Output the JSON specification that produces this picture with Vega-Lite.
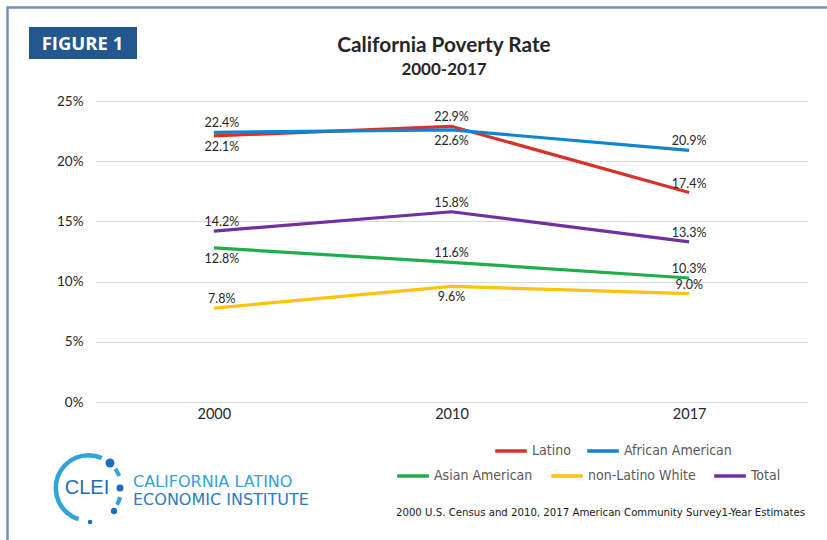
{
  "$schema": "https://vega.github.io/schema/vega-lite/v6.json",
  "width": 713,
  "height": 301,
  "autosize": {"type": "none"},
  "padding": {"left": 95, "top": 101, "right": 19, "bottom": 138},
  "background": "white",
  "config": {"view": {"stroke": null}, "font": "Lato"},
  "data": {
    "values": [
      {"series": "Latino", "year": "2000", "value": 0.221},
      {"series": "Latino", "year": "2010", "value": 0.229},
      {"series": "Latino", "year": "2017", "value": 0.174},
      {"series": "African American", "year": "2000", "value": 0.224},
      {"series": "African American", "year": "2010", "value": 0.226},
      {"series": "African American", "year": "2017", "value": 0.209},
      {"series": "Asian American", "year": "2000", "value": 0.128},
      {"series": "Asian American", "year": "2010", "value": 0.116},
      {"series": "Asian American", "year": "2017", "value": 0.103},
      {"series": "non-Latino White", "year": "2000", "value": 0.078},
      {"series": "non-Latino White", "year": "2010", "value": 0.096},
      {"series": "non-Latino White", "year": "2017", "value": 0.090},
      {"series": "Total", "year": "2000", "value": 0.142},
      {"series": "Total", "year": "2010", "value": 0.158},
      {"series": "Total", "year": "2017", "value": 0.133}
    ]
  },
  "layer": [
    {
      "data": {"values": [{}]},
      "mark": {"type": "rule", "stroke": "#7393b3", "strokeWidth": 2.5},
      "encoding": {"x": {"value": -87.5}, "x2": {"value": 740}, "y": {"value": -93.5}, "y2": {"value": -93.5}}
    },
    {
      "data": {"values": [{}]},
      "mark": {"type": "rule", "stroke": "#7393b3", "strokeWidth": 2.5},
      "encoding": {"x": {"value": -87.5}, "x2": {"value": -87.5}, "y": {"value": -94.7}, "y2": {"value": 445}}
    },
    {
      "data": {"values": [{}]},
      "mark": {"type": "rect", "fill": "#23588f"},
      "encoding": {"x": {"value": -66}, "x2": {"value": 42}, "y": {"value": -74}, "y2": {"value": -42}}
    },
    {
      "data": {"values": [{"t": "FIGURE 1"}]},
      "mark": {"type": "text", "font": "Open Sans", "fontWeight": "bold", "fontSize": 18.5, "color": "white", "align": "center", "baseline": "middle"},
      "encoding": {"text": {"field": "t"}, "x": {"value": -12.5}, "y": {"value": -57}}
    },
    {
      "data": {"values": [{"t": "California Poverty Rate"}]},
      "mark": {"type": "text", "font": "Lato", "fontWeight": "bold", "fontSize": 20.8, "color": "#262626", "align": "center", "baseline": "alphabetic"},
      "encoding": {"text": {"field": "t"}, "x": {"value": 349}, "y": {"value": -49.5}}
    },
    {
      "data": {"values": [{"t": "2000-2017"}]},
      "mark": {"type": "text", "font": "Lato", "fontWeight": "bold", "fontSize": 17, "color": "#262626", "align": "center", "baseline": "alphabetic"},
      "encoding": {"text": {"field": "t"}, "x": {"value": 349}, "y": {"value": -26}}
    },
    {
      "mark": {"type": "line", "strokeWidth": 3.2},
      "transform": [{"filter": {"field": "series", "oneOf": ["Asian American", "non-Latino White", "Total"]}}],
      "encoding": {
        "x": {"field": "year", "type": "ordinal", "sort": ["2000", "2010", "2017"],
          "axis": {"title": null, "domain": false, "ticks": false, "labelAngle": 0, "labelFontSize": 14.5, "labelColor": "#262626", "labelPadding": 5, "labelDx": 6, "labelFont": "Lato"}},
        "y": {"field": "value", "type": "quantitative", "scale": {"domain": [0, 0.25], "nice": false},
          "axis": {"title": null, "domain": false, "ticks": false, "values": [0, 0.05, 0.1, 0.15, 0.2, 0.25], "format": ".0%", "labelFontSize": 13.5, "labelColor": "#262626", "labelPadding": 12, "gridColor": "#d9d9d9", "gridWidth": 1.2, "labelFont": "Lato"}},
        "color": {"field": "series", "type": "nominal",
          "scale": {"domain": ["Asian American", "non-Latino White", "Total"], "range": ["#1fae4b", "#ffc20e", "#7030a0"]},
          "legend": {"orient": "none", "legendX": 300, "legendY": 357, "direction": "horizontal", "title": null, "symbolType": "stroke", "symbolStrokeWidth": 3.5, "symbolSize": 1000, "labelFont": "Liberation Sans Narrow, DejaVu Sans Condensed, Roboto Condensed, Roboto", "labelFontSize": 14, "labelColor": "#595959", "columnPadding": 11, "labelOffset": 3, "padding": 0}}
      }
    },
    {
      "mark": {"type": "line", "strokeWidth": 3.2},
      "transform": [{"filter": {"field": "series", "oneOf": ["African American", "Latino"]}}],
      "encoding": {
        "x": {"field": "year", "type": "ordinal", "sort": ["2000", "2010", "2017"]},
        "y": {"field": "value", "type": "quantitative"},
        "color": {"field": "series", "type": "nominal", "sort": ["Latino", "African American"],
          "scale": {"domain": ["Latino", "African American"], "range": ["#d9302b", "#0e86cf"]},
          "legend": {"orient": "none", "legendX": 398, "legendY": 332, "direction": "horizontal", "title": null, "symbolType": "stroke", "symbolStrokeWidth": 3.5, "symbolSize": 1000, "labelFont": "Liberation Sans Narrow, DejaVu Sans Condensed, Roboto Condensed, Roboto", "labelFontSize": 14, "labelColor": "#595959", "columnPadding": 9, "labelOffset": 3, "padding": 0}}
      }
    },
    {
      "transform": [{"filter": "datum.year === '2000' && !((datum.series === 'Latino') || (datum.series === 'Asian American'))"}],
      "mark": {"type": "text", "fontSize": 12.5, "color": "#262626", "dx": 8, "dy": -9, "baseline": "middle", "font": "Lato"},
      "encoding": {"x": {"field": "year", "type": "ordinal", "sort": ["2000", "2010", "2017"]}, "y": {"field": "value", "type": "quantitative"}, "text": {"field": "value", "format": ".1%"}}
    },
    {
      "transform": [{"filter": "datum.year === '2000' && ((datum.series === 'Latino') || (datum.series === 'Asian American'))"}],
      "mark": {"type": "text", "fontSize": 12.5, "color": "#262626", "dx": 8, "dy": 11, "baseline": "middle", "font": "Lato"},
      "encoding": {"x": {"field": "year", "type": "ordinal", "sort": ["2000", "2010", "2017"]}, "y": {"field": "value", "type": "quantitative"}, "text": {"field": "value", "format": ".1%"}}
    },
    {
      "transform": [{"filter": "datum.year !== '2000' && !(datum.year === '2010' && (datum.series === 'African American' || datum.series === 'non-Latino White'))"}],
      "mark": {"type": "text", "fontSize": 12.5, "color": "#262626", "dy": -9, "baseline": "middle", "font": "Lato"},
      "encoding": {"x": {"field": "year", "type": "ordinal", "sort": ["2000", "2010", "2017"]}, "y": {"field": "value", "type": "quantitative"}, "text": {"field": "value", "format": ".1%"}}
    },
    {
      "transform": [{"filter": "datum.year === '2010' && (datum.series === 'African American' || datum.series === 'non-Latino White')"}],
      "mark": {"type": "text", "fontSize": 12.5, "color": "#262626", "dy": 11, "baseline": "middle", "font": "Lato"},
      "encoding": {"x": {"field": "year", "type": "ordinal", "sort": ["2000", "2010", "2017"]}, "y": {"field": "value", "type": "quantitative"}, "text": {"field": "value", "format": ".1%"}}
    },
    {
      "data": {"values": [{}]},
      "mark": {"type": "arc", "innerRadius": 30.5, "outerRadius": 35, "theta": 3.45, "theta2": 6.7, "fill": "#2ea3dc"},
      "encoding": {"x": {"value": -6.5}, "y": {"value": 387}}
    },
    {
      "data": {"values": [{}]},
      "mark": {"type": "arc", "innerRadius": 31, "outerRadius": 35, "theta": 0.95, "theta2": 1.2, "fill": "#2ea3dc"},
      "encoding": {"x": {"value": -6.5}, "y": {"value": 387}}
    },
    {
      "data": {"values": [{}]},
      "mark": {"type": "arc", "innerRadius": 31, "outerRadius": 35, "theta": 1.85, "theta2": 2.1, "fill": "#2ea3dc"},
      "encoding": {"x": {"value": -6.5}, "y": {"value": 387}}
    },
    {
      "data": {"values": [{}]},
      "mark": {"type": "point", "shape": "circle", "filled": true, "color": "#1a6ec0", "opacity": 1, "size": 80},
      "encoding": {"x": {"value": 15}, "y": {"value": 362}}
    },
    {
      "data": {"values": [{}]},
      "mark": {"type": "point", "shape": "circle", "filled": true, "color": "#1a6ec0", "opacity": 1, "size": 50},
      "encoding": {"x": {"value": 25}, "y": {"value": 387}}
    },
    {
      "data": {"values": [{}]},
      "mark": {"type": "point", "shape": "circle", "filled": true, "color": "#1a6ec0", "opacity": 1, "size": 40},
      "encoding": {"x": {"value": 19}, "y": {"value": 410}}
    },
    {
      "data": {"values": [{}]},
      "mark": {"type": "point", "shape": "circle", "filled": true, "color": "#1a6ec0", "opacity": 1, "size": 20},
      "encoding": {"x": {"value": -5}, "y": {"value": 421}}
    },
    {
      "data": {"values": [{"t": "CLEI"}]},
      "mark": {"type": "text", "font": "Liberation Sans", "fontSize": 20, "color": "#1e6db4", "align": "center", "baseline": "middle"},
      "encoding": {"text": {"field": "t"}, "x": {"value": -8}, "y": {"value": 387}}
    },
    {
      "data": {"values": [{"t": "CALIFORNIA LATINO"}]},
      "mark": {"type": "text", "font": "DejaVu Sans", "fontSize": 16, "color": "#3aa0d8", "align": "left", "baseline": "middle"},
      "encoding": {"text": {"field": "t"}, "x": {"value": 38}, "y": {"value": 381}}
    },
    {
      "data": {"values": [{"t": "ECONOMIC INSTITUTE"}]},
      "mark": {"type": "text", "font": "DejaVu Sans", "fontSize": 16, "color": "#2b7cc0", "align": "left", "baseline": "middle"},
      "encoding": {"text": {"field": "t"}, "x": {"value": 38}, "y": {"value": 399}}
    },
    {
      "data": {"values": [{"t": "2000 U.S. Census and 2010, 2017 American Community Survey1-Year Estimates"}]},
      "mark": {"type": "text", "font": "Liberation Sans Narrow, DejaVu Sans Condensed, Roboto Condensed, Roboto", "fontSize": 11.3, "color": "#1a1a1a", "align": "right", "baseline": "middle"},
      "encoding": {"text": {"field": "t"}, "x": {"value": 710}, "y": {"value": 412}}
    }
  ],
  "resolve": {"scale": {"color": "independent"}, "legend": {"color": "independent"}}
}
